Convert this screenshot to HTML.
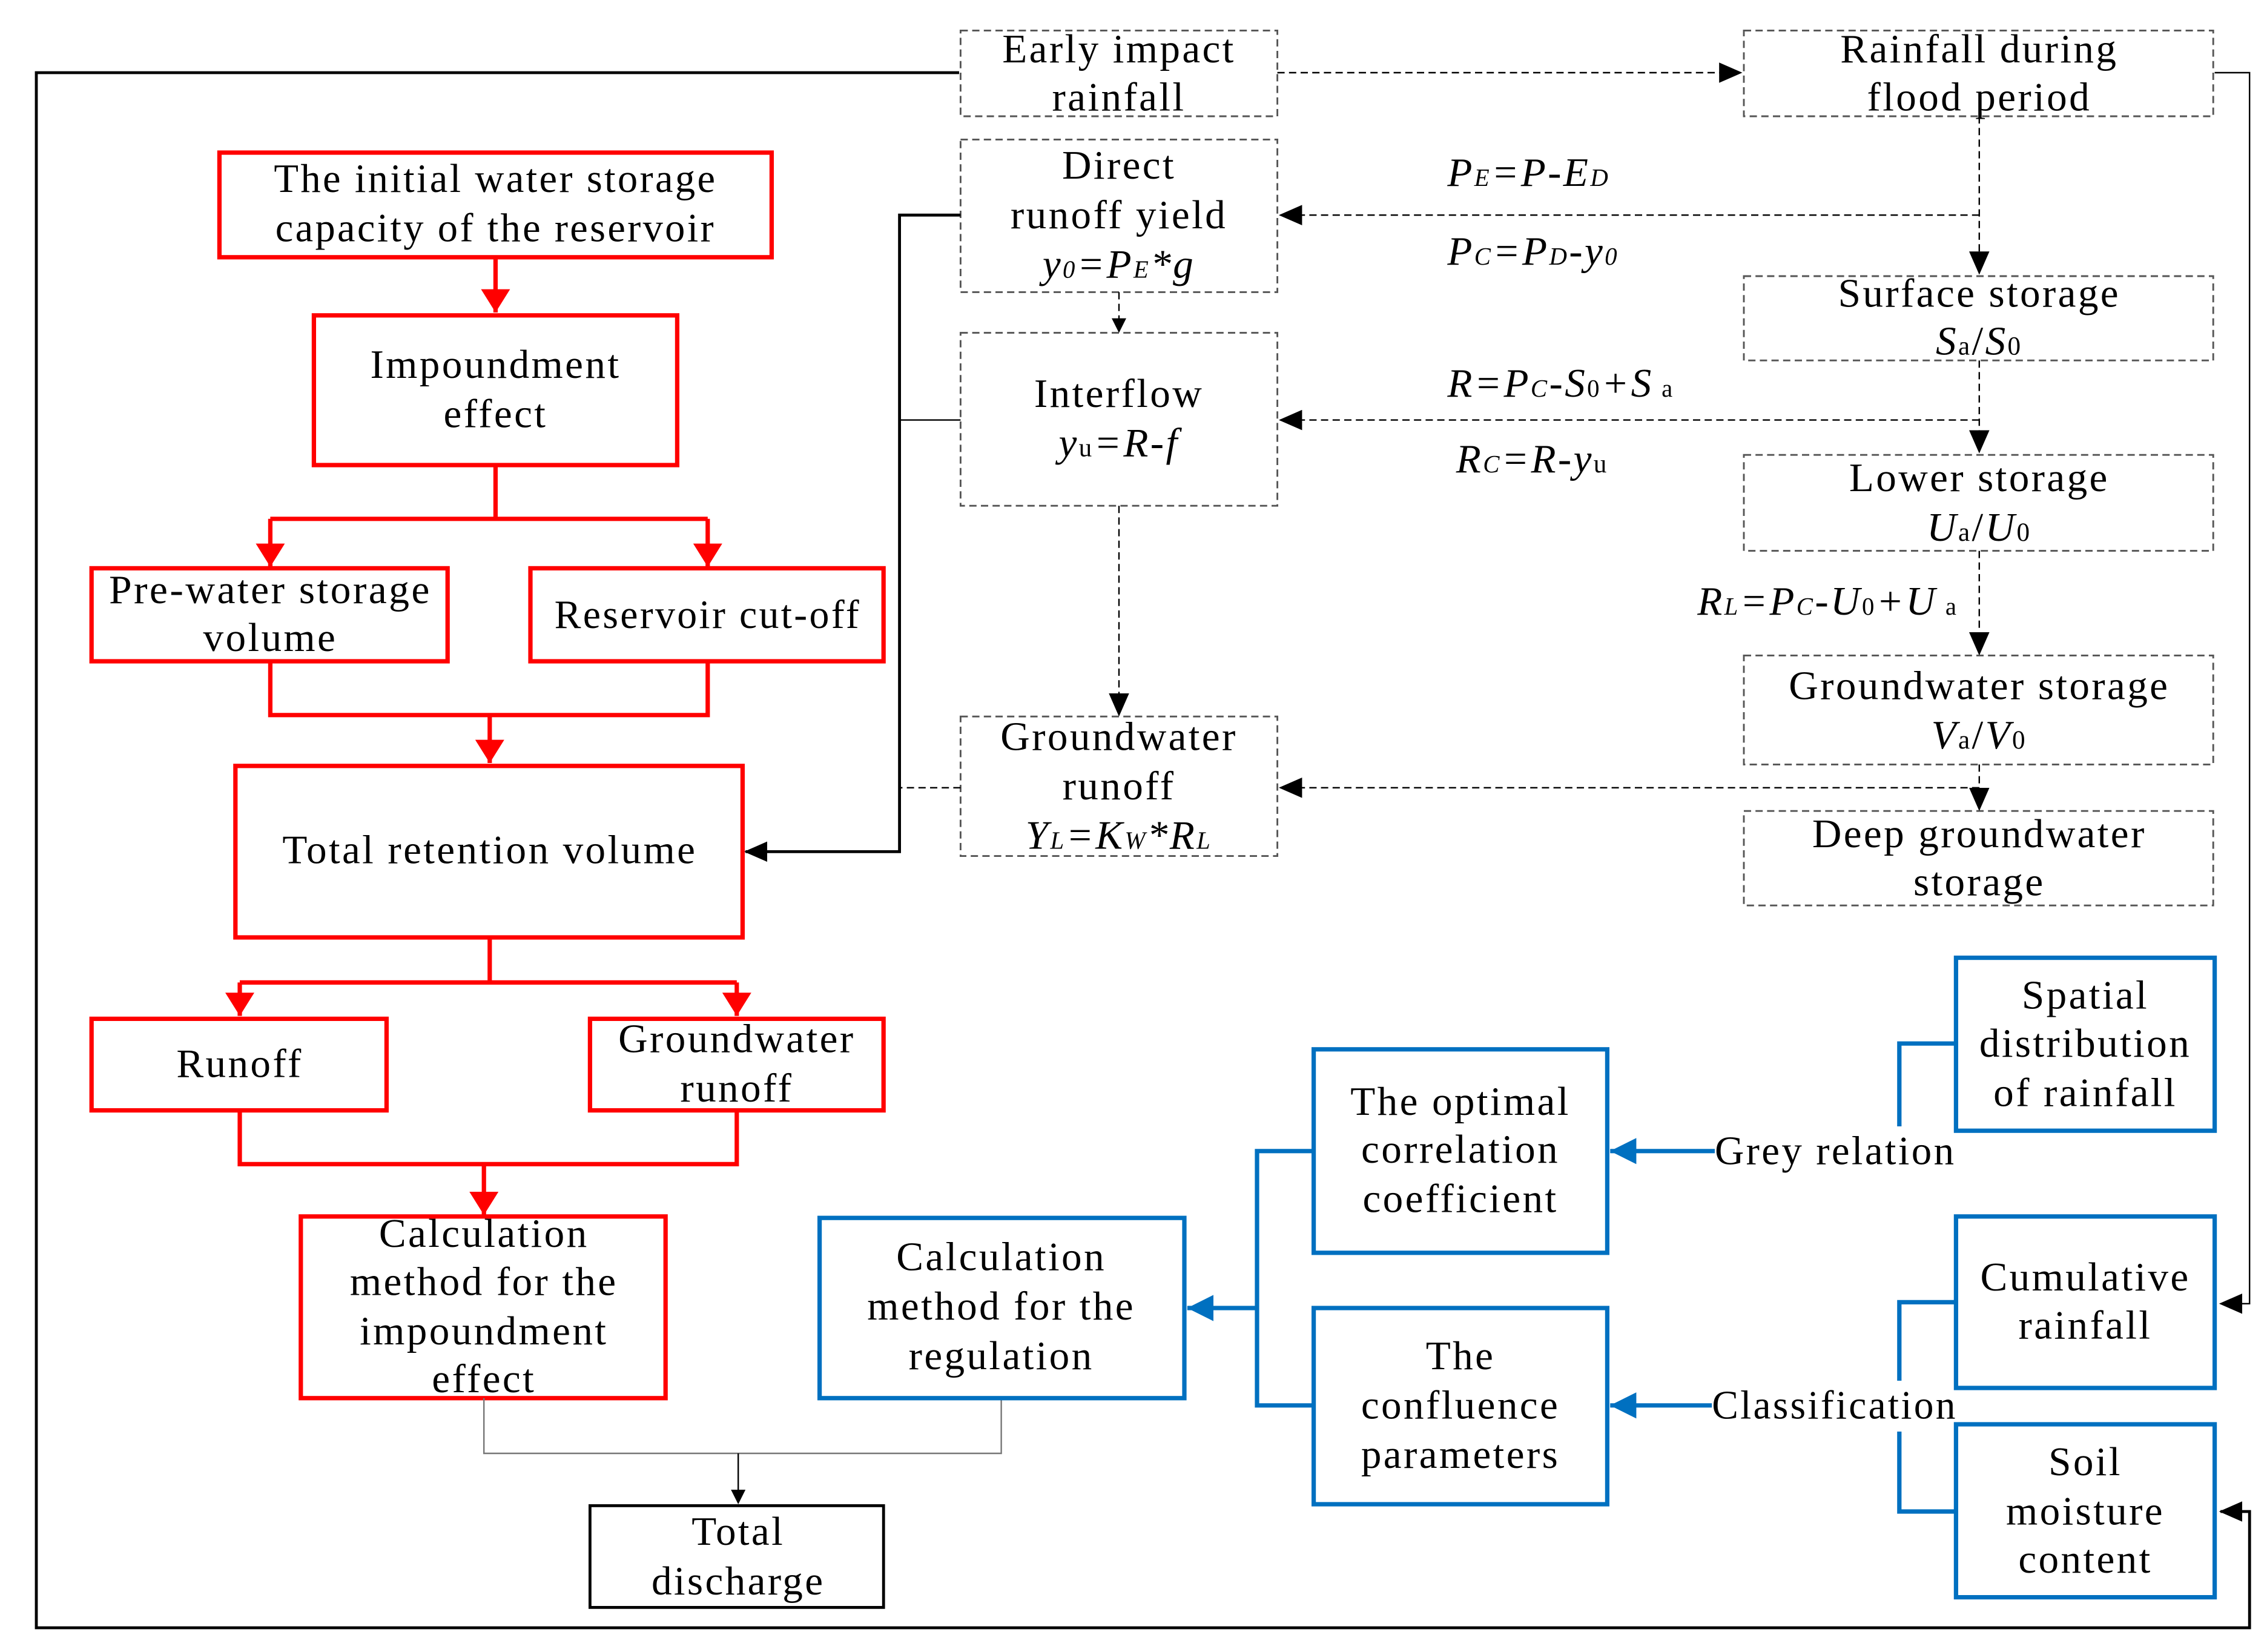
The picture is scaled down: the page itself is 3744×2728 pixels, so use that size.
<!DOCTYPE html>
<html><head><meta charset="utf-8"><style>
html,body{margin:0;padding:0;background:#fff}
svg{display:block}
text{font-family:"Liberation Serif",serif;font-size:28px;fill:#000;letter-spacing:1.4px}
.i{font-style:italic}
</style></head><body>
<svg width="3744" height="2728" viewBox="0 0 1560 1136.67" preserveAspectRatio="none" xmlns="http://www.w3.org/2000/svg">
<defs>
<marker id="ab" markerWidth="10" markerHeight="10" refX="9" refY="5" orient="auto" markerUnits="userSpaceOnUse"><path d="M0,0L10,5L0,10z" fill="#000"/></marker>
<marker id="ab2" markerWidth="16" markerHeight="14" refX="15" refY="7" orient="auto" markerUnits="userSpaceOnUse"><path d="M0,0L16,7L0,14z" fill="#000"/></marker>
<marker id="ar" markerWidth="16" markerHeight="20" refX="16" refY="10" orient="auto" markerUnits="userSpaceOnUse"><path d="M0,0L16,10L0,20z" fill="#f00"/></marker>
<marker id="abl" markerWidth="18" markerHeight="18" refX="18" refY="9" orient="auto" markerUnits="userSpaceOnUse"><path d="M0,0L18,9L0,18z" fill="#0070c0"/></marker>
</defs>
<rect width="1560" height="1137" fill="#fff"/>
<path d="M660,50H25V1120H1548V1040H1528" fill="none" stroke="#000" stroke-width="2" marker-end="url(#ab2)"/>
<path d="M1524,50H1548V897H1528" fill="none" stroke="#000" stroke-width="1" marker-end="url(#ab2)"/>
<g fill="none" stroke="#555" stroke-width="1.2" stroke-dasharray="5,3">
<rect x="661" y="21" width="218" height="59"/>
<rect x="1200" y="21" width="323" height="59"/>
<rect x="661" y="96" width="218" height="105"/>
<rect x="661" y="229" width="218" height="119"/>
<rect x="661" y="493" width="218" height="96"/>
<rect x="1200" y="190" width="323" height="58"/>
<rect x="1200" y="313" width="323" height="66"/>
<rect x="1200" y="451" width="323" height="75"/>
<rect x="1200" y="558" width="323" height="65"/>
</g>
<g fill="none" stroke="#000" stroke-width="1" stroke-dasharray="5,3">
<path d="M879,50H1198" marker-end="url(#ab2)"/>
<path d="M1362,80V188" marker-end="url(#ab2)"/>
<path d="M1362,248V311" marker-end="url(#ab2)"/>
<path d="M1362,379V450" marker-end="url(#ab2)"/>
<path d="M1362,526V557" marker-end="url(#ab2)"/>
<path d="M1362,148H881" marker-end="url(#ab2)"/>
<path d="M1362,289H881" marker-end="url(#ab2)"/>
<path d="M1362,542H881" marker-end="url(#ab2)"/>
<path d="M770,201V228" marker-end="url(#ab)"/>
<path d="M770,348V492" marker-end="url(#ab2)"/>
<path d="M661,542H619"/>
</g>
<path d="M661,148H619V586H513" fill="none" stroke="#000" stroke-width="2" marker-end="url(#ab2)"/>
<path d="M661,289H619" stroke="#000" stroke-width="1"/>
<g fill="none" stroke="#f00" stroke-width="3">
<rect x="151" y="105" width="380" height="72"/>
<rect x="216" y="217" width="250" height="103"/>
<rect x="63" y="391" width="245" height="64"/>
<rect x="365" y="391" width="243" height="64"/>
<rect x="162" y="527" width="349" height="118"/>
<rect x="63" y="701" width="203" height="63"/>
<rect x="406" y="701" width="202" height="63"/>
<rect x="207" y="837" width="251" height="125"/>
<path d="M341,177V215" marker-end="url(#ar)"/>
<path d="M341,320V357M186,357H487"/>
<path d="M186,357V390" marker-end="url(#ar)"/>
<path d="M487,357V390" marker-end="url(#ar)"/>
<path d="M186,455V492H487V455"/>
<path d="M337,492V525" marker-end="url(#ar)"/>
<path d="M337,645V676H165M337,676H507"/>
<path d="M165,676V699" marker-end="url(#ar)"/>
<path d="M507,676V699" marker-end="url(#ar)"/>
<path d="M165,764V801H507V764"/>
<path d="M333,801V836" marker-end="url(#ar)"/>
</g>
<path d="M333,962V1000H689V962" fill="none" stroke="#777" stroke-width="1"/>
<path d="M508,1000V1034" stroke="#000" stroke-width="1" marker-end="url(#ab)"/>
<rect x="406" y="1036" width="202" height="70" fill="none" stroke="#000" stroke-width="2"/>
<g fill="none" stroke="#0070c0" stroke-width="3">
<rect x="564" y="838" width="251" height="124"/>
<rect x="904" y="722" width="202" height="140"/>
<rect x="904" y="900" width="202" height="135"/>
<rect x="1346" y="659" width="178" height="119"/>
<rect x="1346" y="837" width="178" height="118"/>
<rect x="1346" y="980" width="178" height="119"/>
<path d="M904,792H865V967H904"/>
<path d="M865,900H817" marker-end="url(#abl)"/>
<path d="M1180,792H1108" marker-end="url(#abl)"/>
<path d="M1178,967H1108" marker-end="url(#abl)"/>
<path d="M1346,718H1307V775"/>
<path d="M1346,896H1307V950"/>
<path d="M1307,985V1040H1346"/>
</g>
<g text-anchor="middle">
<text x="770" y="43">Early impact</text><text x="770" y="76">rainfall</text>
<text x="1362" y="43">Rainfall during</text><text x="1362" y="76">flood period</text>
<text x="770" y="123">Direct</text><text x="770" y="157">runoff yield</text>
<text x="770" y="191" class="i">y<tspan font-size="17">0</tspan>=P<tspan font-size="17">E</tspan>*g</text>
<text x="770" y="280">Interflow</text>
<text x="770" y="314"><tspan class="i">y</tspan><tspan font-size="18">u</tspan><tspan class="i">=R-f</tspan></text>
<text x="770" y="516">Groundwater</text><text x="770" y="550">runoff</text>
<text x="770" y="584" class="i">Y<tspan font-size="17">L</tspan>=K<tspan font-size="17">W</tspan>*R<tspan font-size="17">L</tspan></text>
<text x="1362" y="211">Surface storage</text>
<text x="1362" y="244"><tspan class="i">S</tspan><tspan font-size="18">a</tspan>/<tspan class="i">S</tspan><tspan font-size="18">0</tspan></text>
<text x="1362" y="338">Lower storage</text>
<text x="1362" y="372"><tspan class="i">U</tspan><tspan font-size="18">a</tspan>/<tspan class="i">U</tspan><tspan font-size="18">0</tspan></text>
<text x="1362" y="481">Groundwater storage</text>
<text x="1362" y="515"><tspan class="i">V</tspan><tspan font-size="18">a</tspan>/<tspan class="i">V</tspan><tspan font-size="18">0</tspan></text>
<text x="1362" y="583">Deep groundwater</text><text x="1362" y="616">storage</text>
<text x="341" y="132" textLength="305" lengthAdjust="spacingAndGlyphs">The initial water storage</text>
<text x="341" y="166" textLength="303" lengthAdjust="spacingAndGlyphs">capacity of the reservoir</text>
<text x="341" y="260">Impoundment</text><text x="341" y="294">effect</text>
<text x="186" y="415" textLength="222" lengthAdjust="spacingAndGlyphs">Pre-water storage</text><text x="186" y="448">volume</text>
<text x="487" y="432" textLength="211" lengthAdjust="spacingAndGlyphs">Reservoir cut-off</text>
<text x="337" y="594">Total retention volume</text>
<text x="165" y="741">Runoff</text>
<text x="507" y="724">Groundwater</text><text x="507" y="758">runoff</text>
<text x="333" y="858">Calculation</text><text x="333" y="891">method for the</text>
<text x="333" y="925">impoundment</text><text x="333" y="958">effect</text>
<text x="689" y="874">Calculation</text><text x="689" y="908">method for the</text><text x="689" y="942">regulation</text>
<text x="1005" y="767">The optimal</text><text x="1005" y="800">correlation</text><text x="1005" y="834">coefficient</text>
<text x="1005" y="942">The</text><text x="1005" y="976">confluence</text><text x="1005" y="1010">parameters</text>
<text x="1435" y="694">Spatial</text><text x="1435" y="727">distribution</text><text x="1435" y="761">of rainfall</text>
<text x="1435" y="888">Cumulative</text><text x="1435" y="921">rainfall</text>
<text x="1435" y="1015">Soil</text><text x="1435" y="1049">moisture</text><text x="1435" y="1082">content</text>
<text x="508" y="1063">Total</text><text x="508" y="1097">discharge</text>
</g>
<text x="1180" y="801" textLength="166" lengthAdjust="spacingAndGlyphs">Grey relation</text>
<text x="1178" y="976" textLength="169" lengthAdjust="spacingAndGlyphs">Classification</text>
<text x="996" y="128" class="i">P<tspan font-size="17">E</tspan>=P-E<tspan font-size="17">D</tspan></text>
<text x="996" y="182" class="i">P<tspan font-size="17">C</tspan>=P<tspan font-size="17">D</tspan>-y<tspan font-size="17">0</tspan></text>
<text x="996" y="273"><tspan class="i">R=P</tspan><tspan class="i" font-size="17">C</tspan><tspan class="i">-S</tspan><tspan font-size="17">0</tspan><tspan class="i">+S</tspan><tspan font-size="17"> a</tspan></text>
<text x="1002" y="325"><tspan class="i">R</tspan><tspan class="i" font-size="17">C</tspan><tspan class="i">=R-y</tspan><tspan font-size="18">u</tspan></text>
<text x="1168" y="423"><tspan class="i">R</tspan><tspan class="i" font-size="17">L</tspan><tspan class="i">=P</tspan><tspan class="i" font-size="17">C</tspan><tspan class="i">-U</tspan><tspan font-size="17">0</tspan><tspan class="i">+U</tspan><tspan font-size="17"> a</tspan></text>
</svg>
</body></html>
